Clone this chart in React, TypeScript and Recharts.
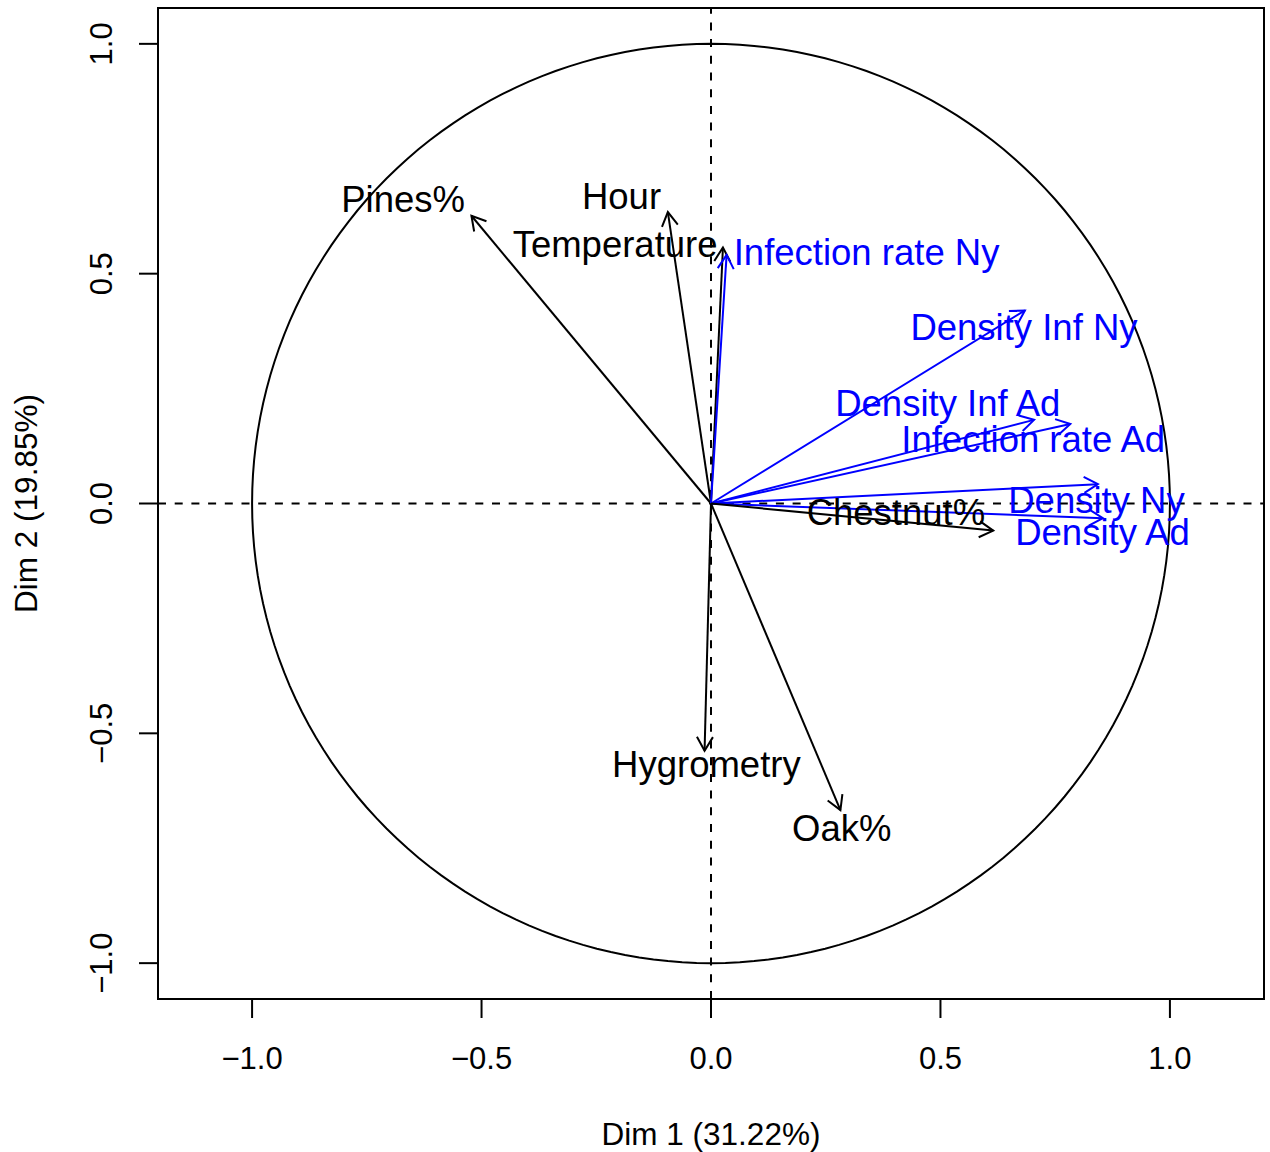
import { ScatterChart, Scatter, XAxis, YAxis, ReferenceLine, ReferenceArea } from 'recharts'

// variables factor map (PCA), coordinates on Dim 1 / Dim 2
const VARIABLES = [
  'Pines%', 'Hour', 'Temperature', 'Infection rate Ny', 'Density Inf Ny', 'Density Inf Ad',
  'Infection rate Ad', 'Density Ny', 'Density Ad', 'Chestnut%', 'Hygrometry', 'Oak%',
]
const DIM1 = [-0.522, -0.094, 0.026, 0.034, 0.684, 0.704, 0.783, 0.843, 0.854, 0.615, -0.014, 0.282]
const DIM2 = [0.626, 0.634, 0.557, 0.541, 0.42, 0.182, 0.173, 0.042, -0.032, -0.059, -0.538, -0.667]
// supplementary variables are drawn in blue
const SUPPLEMENTARY = [false, false, false, true, true, true, true, true, true, false, false, false]
// where each label sits (text centre), in the same units
const LABEL_DIM1 = [-0.671, -0.195, -0.209, 0.339, 0.682, 0.516, 0.702, 0.84, 0.853, 0.403, -0.01, 0.285]
const LABEL_DIM2 = [0.663, 0.669, 0.564, 0.547, 0.383, 0.218, 0.14, 0.008, -0.062, -0.018, -0.567, -0.706]

const TICKS = [-1, -0.5, 0, 0.5, 1]
const X_TITLE = 'Dim 1 (31.22%)'
const Y_TITLE = 'Dim 2 (19.85%)'

const X_DOMAIN: [number, number] = [-1.205, 1.205]
const Y_DOMAIN: [number, number] = [-1.078, 1.078]

// correlation circle (radius 1), drawn as a polygon like R does
const CIRCLE_STEPS = 200
const UNIT_CIRCLE = Array.from({ length: CIRCLE_STEPS + 1 }, (_, i) => ({
  x: Math.cos((2 * Math.PI * i) / CIRCLE_STEPS),
  y: Math.sin((2 * Math.PI * i) / CIRCLE_STEPS),
}))

const labelPoints = VARIABLES.map((name, i) => ({
  x: LABEL_DIM1[i],
  y: LABEL_DIM2[i],
  name,
  sup: SUPPLEMENTARY[i],
}))

const FONT = '"Liberation Sans", Arial, Helvetica, sans-serif'
const BLUE = '#0000ff'

const fmt = (v: number) => (v < 0 ? '\u2212' : '') + Math.abs(v).toFixed(1)

const XTick = (p: any) => (
  <text x={p.x} y={p.y} dy="0.35em" textAnchor="middle" fontSize={31} fontFamily={FONT} fill="#000">
    {fmt(p.payload.value)}
  </text>
)

const YTick = (p: any) => (
  <text x={p.x} y={p.y} dy="0.35em" textAnchor="middle" fontSize={31} fontFamily={FONT} fill="#000"
        transform={`rotate(-90, ${p.x}, ${p.y})`}>
    {fmt(p.payload.value)}
  </text>
)

function arrow(color: string) {
  return (p: any) => {
    const { x1, y1, x2, y2 } = p
    const ang = Math.atan2(y2 - y1, x2 - x1)
    const len = 16
    const spread = Math.PI / 6
    const ax = x2 - len * Math.cos(ang - spread)
    const ay = y2 - len * Math.sin(ang - spread)
    const bx = x2 - len * Math.cos(ang + spread)
    const by = y2 - len * Math.sin(ang + spread)
    return (
      <g>
        <line x1={x1} y1={y1} x2={x2} y2={y2} stroke={color} strokeWidth={2} />
        <polyline points={`${ax},${ay} ${x2},${y2} ${bx},${by}`} fill="none" stroke={color} strokeWidth={2} />
      </g>
    )
  }
}

const LabelText = (p: any) => (
  <text x={p.cx} y={p.cy} dy="0.35em" textAnchor="middle" fontSize={36.5} fontFamily={FONT}
        fill={p.payload.sup ? BLUE : '#000'}>
    {p.payload.name}
  </text>
)

export default function App() {
  return (
    <div style={{ position: 'absolute', left: 0, top: 0, background: '#fff', fontFamily: FONT }}>
      <ScatterChart width={1270} height={1152} margin={{ top: 8, right: 6, bottom: 0, left: 0 }}>
        <XAxis type="number" dataKey="x" domain={X_DOMAIN} allowDataOverflow ticks={TICKS}
               axisLine={false} tickSize={19} tickMargin={40} height={153}
               tickLine={{ stroke: '#000', strokeWidth: 2 }} tick={XTick}
               label={{ value: X_TITLE, position: 'insideBottom', offset: 7, fontSize: 31.5, fill: '#000', fontFamily: FONT }} />
        <YAxis type="number" dataKey="y" domain={Y_DOMAIN} allowDataOverflow ticks={TICKS}
               axisLine={false} tickSize={19} tickMargin={38} width={158}
               tickLine={{ stroke: '#000', strokeWidth: 2 }} tick={YTick}
               label={{ value: Y_TITLE, angle: -90, position: 'insideLeft', offset: 26, fontSize: 31.5, fill: '#000',
                        fontFamily: FONT, style: { textAnchor: 'middle' } }} />
        <ReferenceArea x1={X_DOMAIN[0]} x2={X_DOMAIN[1]} y1={Y_DOMAIN[0]} y2={Y_DOMAIN[1]}
                       fill="none" fillOpacity={0} stroke="#000" strokeWidth={2} strokeOpacity={1} />
        <Scatter data={UNIT_CIRCLE} line={{ stroke: '#000', strokeWidth: 2 }} shape={() => <g />}
                 isAnimationActive={false} />
        <ReferenceLine x={0} stroke="#000" strokeWidth={2} strokeDasharray="8 8.7" />
        <ReferenceLine y={0} stroke="#000" strokeWidth={2} strokeDasharray="8 8.7" />
        {VARIABLES.map((name, i) => (
          <ReferenceLine key={name} segment={[{ x: 0, y: 0 }, { x: DIM1[i], y: DIM2[i] }]}
                         shape={arrow(SUPPLEMENTARY[i] ? BLUE : '#000')} />
        ))}
        <Scatter data={labelPoints} shape={LabelText} isAnimationActive={false} />
      </ScatterChart>
    </div>
  )
}
